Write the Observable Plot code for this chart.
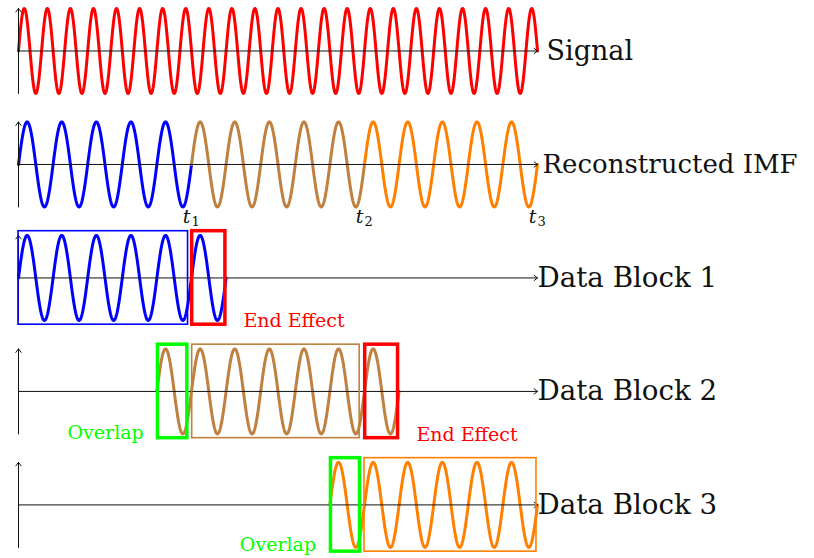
<!DOCTYPE html>
<html><head><meta charset="utf-8">
<script src="https://cdn.jsdelivr.net/npm/d3@7"></script>
<script src="https://cdn.jsdelivr.net/npm/@observablehq/plot@0.6"></script>
<style>body{margin:0;background:#fff}svg{display:block}</style>
</head><body><div id="chart"></div>
<script>
// Rows (label and vertical offset of each baseline, in wave-amplitude units)
const rowLabels = ["Signal", "Reconstructed IMF", "Data Block 1", "Data Block 2", "Data Block 3"];
const rowOffsets = [0, -2.67, -5.34, -8.01, -10.68];

// Wave segments: row, start, end (in IMF periods), frequency, group
const segRow   = [0, 1, 1, 1, 2, 3, 4];
const segStart = [0, 0, 5, 10, 0, 4, 9];
const segEnd   = [15, 5, 10, 15, 6, 11, 15];
const segFreq  = [1.5, 1, 1, 1, 1, 1, 1];
const segGroup = ["signal", "block1", "block2", "block3", "block1", "block2", "block3"];

// Boxes around the data blocks
const boxRow   = [2, 2, 3, 3, 3, 4, 4];
const boxStart = [0, 5.02, 4.03, 5.02, 10.02, 9.03, 10.0];
const boxEnd   = [4.9, 5.98, 4.88, 9.86, 10.97, 9.87, 14.97];
const boxGroup = ["block1", "end", "overlap", "block2", "end", "overlap", "block3"];
const boxHalfHeight = 1.1;

// Time marks on the reconstructed IMF
const tSubs = ["1", "2", "3"];
const tAt = [5, 10, 15];

// Annotations
const noteText = ["End Effect", "End Effect", "Overlap", "Overlap"];
const noteRow  = [2, 3, 3, 4];
const noteAt   = [6.5, 11.5, 3.62, 8.6];
const noteDrop = [1.02, 1.03, 0.98, 0.94];
const noteGroup = ["end", "end", "overlap", "overlap"];

const groups = ["signal", "block1", "block2", "block3", "end", "overlap"];
const groupColors = ["#ff0000", "#0000ff", "#bf8040", "#ff8000", "#ff0000", "#00ff00"];

const serif = "'DejaVu Serif', 'Liberation Serif', serif";

// Build tables
const rows = rowLabels.map((label, i) => ({label, off: rowOffsets[i], i}));
const wave = [];
segRow.forEach((r, s) => {
  const n = Math.round((segEnd[s] - segStart[s]) / 0.01);
  for (let k = 0; k <= n; k++) {
    const x = segStart[s] + k * (segEnd[s] - segStart[s]) / n;
    wave.push({seg: s, group: segGroup[s], x, y: rowOffsets[r] + Math.sin(2 * Math.PI * segFreq[s] * x)});
  }
});
const boxes = boxRow.map((r, i) => ({
  x1: boxStart[i], x2: boxEnd[i],
  y1: rowOffsets[r] - boxHalfHeight, y2: rowOffsets[r] + boxHalfHeight,
  group: boxGroup[i], thick: boxGroup[i] === "end" || boxGroup[i] === "overlap"
}));
const tMarks = tSubs.map((s, i) => ({sub: s, x: tAt[i], y: rowOffsets[1] - 1.24}));
const notes = noteText.map((t, i) => ({text: t, x: noteAt[i], y: rowOffsets[noteRow[i]] - noteDrop[i], group: noteGroup[i]}));

const chart = Plot.plot({
  width: 814, height: 558,
  marginTop: 0, marginRight: 0, marginBottom: 0, marginLeft: 0,
  x: {domain: [0, 15], range: [18, 537], axis: null},
  y: {domain: [1.188, -11.941], range: [0, 558], axis: null},
  color: {type: "ordinal", domain: groups, range: groupColors},
  style: {fontFamily: serif, background: "white"},
  marks: [
    Plot.line(wave, {x: "x", y: "y", z: "seg", stroke: "group", strokeWidth: 3, curve: "linear"}),
    Plot.arrow(rows, {x1: 0, x2: 15, y1: "off", y2: "off", stroke: "#111", strokeWidth: 1, headLength: 6.5, headAngle: 75}),
    Plot.arrow(rows, {x1: 0, x2: 0, y1: d => d.off - 1, y2: d => d.off + 1, stroke: "#111", strokeWidth: 1, headLength: 6.5, headAngle: 75}),
    Plot.rect(boxes.filter(d => !d.thick), {x1: "x1", x2: "x2", y1: "y1", y2: "y2", fill: "none", stroke: "group", strokeWidth: 1.6}),
    Plot.rect(boxes.filter(d => d.thick), {x1: "x1", x2: "x2", y1: "y1", y2: "y2", fill: "none", stroke: "group", strokeWidth: 3.5}),
    Plot.text(rows.filter(d => d.i === 0), {x: 15, y: "off", text: "label", textAnchor: "start", dx: 9, fontSize: 27, fontFamily: serif, fill: "#111"}),
    Plot.text(rows.filter(d => d.i === 1), {x: 15, y: "off", text: "label", textAnchor: "start", dx: 5, fontSize: 26, fontFamily: serif, fill: "#111"}),
    Plot.text(rows.filter(d => d.i >= 2), {x: 15, y: "off", text: "label", textAnchor: "start", dx: 0, fontSize: 27.7, fontFamily: serif, fill: "#111"}),
    Plot.text(tMarks, {x: "x", y: "y", text: () => "t", textAnchor: "end", fontStyle: "italic", fontSize: 19, dx: -1, fontFamily: serif, fill: "#111"}),
    Plot.text(tMarks, {x: "x", y: "y", text: "sub", textAnchor: "start", fontSize: 13, dx: 0, dy: 5, fontFamily: serif, fill: "#111"}),
    Plot.text(notes.filter(d => d.group === "end"), {x: "x", y: "y", text: "text", textAnchor: "start", fill: "group", fontSize: 19, fontFamily: serif}),
    Plot.text(notes.filter(d => d.group === "overlap"), {x: "x", y: "y", text: "text", textAnchor: "end", fill: "group", fontSize: 19, fontFamily: serif})
  ]
});
document.getElementById("chart").append(chart);
</script>
</body></html>
